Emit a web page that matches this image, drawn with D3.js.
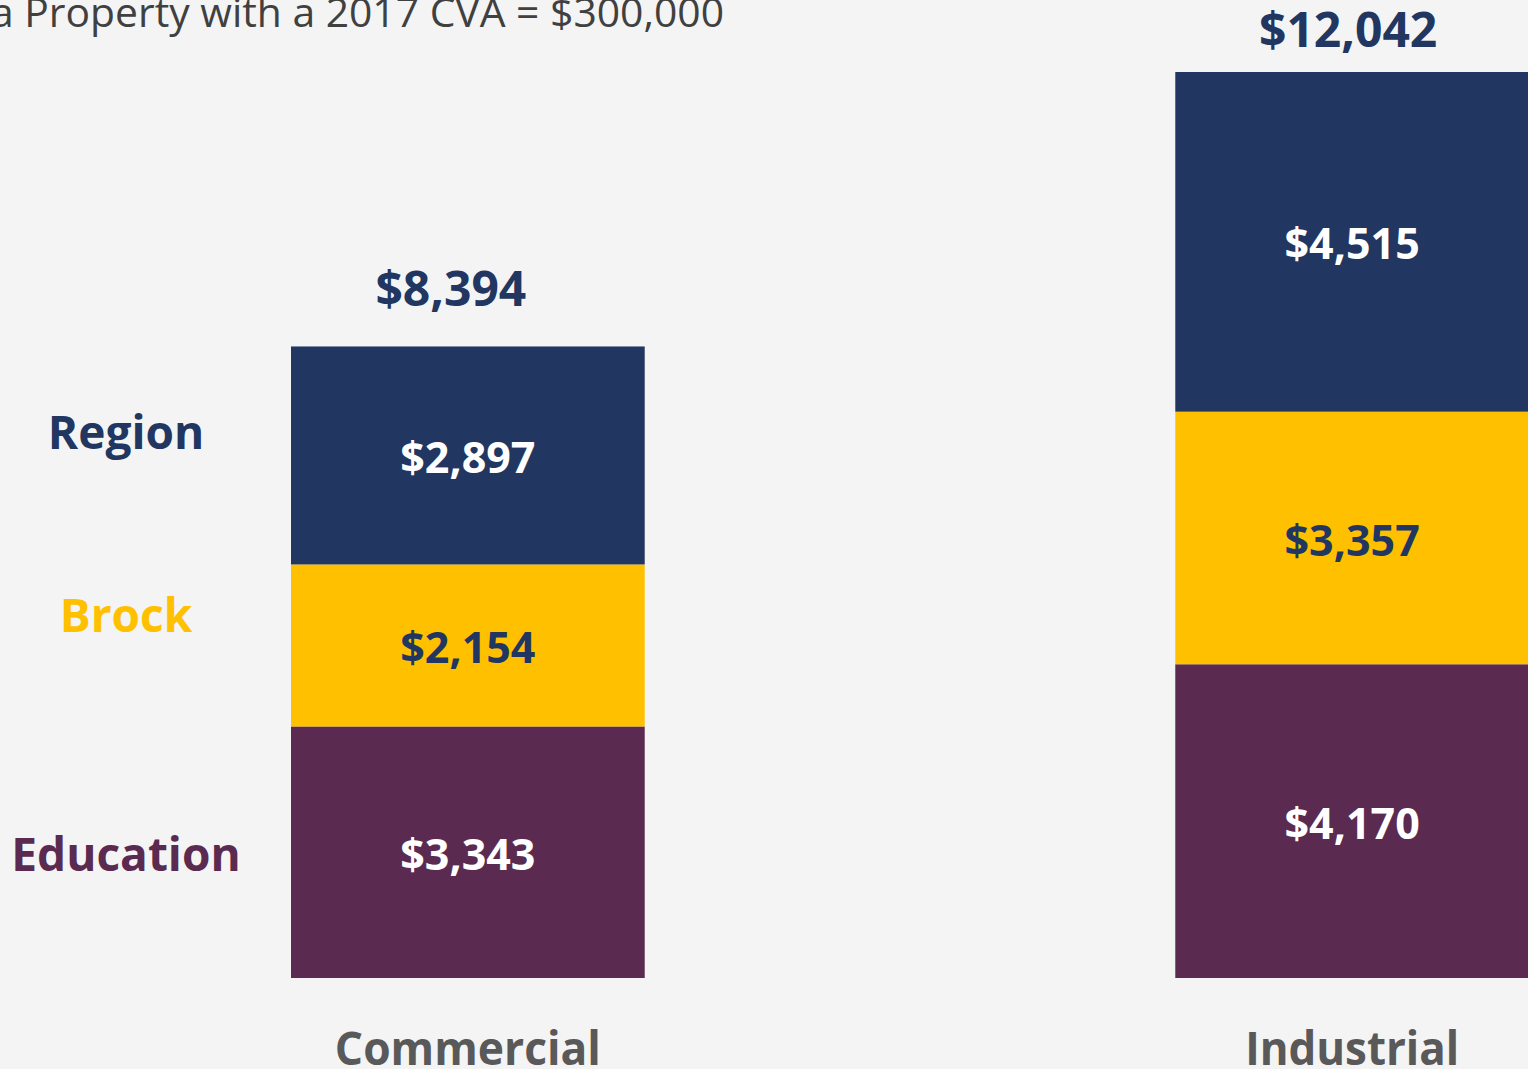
<!DOCTYPE html>
<html>
<head>
<meta charset="utf-8">
<script src="https://cdn.jsdelivr.net/npm/d3@7"></script>
<style>
  html, body { margin: 0; padding: 0; background: #f4f4f4; overflow: hidden; }
  text { font-family: 'Open Sans', 'Noto Sans', sans-serif; }
</style>
</head>
<body>
<div id="vis"></div>
<script>
var categories = ['Commercial', 'Industrial'];
var series = ['Education', 'Brock', 'Region'];
var education = [3343, 4170];
var brock = [2154, 3357];
var region = [2897, 4515];
var totals = [8394, 12042];
var titleText = 'a Property with a 2017 CVA = $300,000';

var width = 1528, height = 1069;

var data = categories.map((c, i) => ({
    category: c, Education: education[i], Brock: brock[i], Region: region[i], total: totals[i]
}));

var fills = d3.scaleOrdinal().domain(series).range(['#5a2a50', '#ffc000', '#213761']);
var inner = d3.scaleOrdinal().domain(series).range(['#ffffff', '#213761', '#ffffff']);
var fmt = d => '$' + d3.format(',')(d);

var x = d3.scaleBand()
    .domain(categories)
    .range([291, 1529])
    .paddingInner(0.6)
    .paddingOuter(0);

var y = d3.scaleLinear()
    .domain([0, d3.max(totals)])
    .range([978, 72]);

var svg = d3.select('#vis').append('svg')
    .attr('width', width)
    .attr('height', height);

svg.append('rect').attr('width', width).attr('height', height).attr('fill', '#f4f4f4');

// title runs off the left edge in the source
svg.append('text')
    .attr('x', -9).attr('y', 27)
    .attr('font-size', 40)
    .attr('textLength', 733)
    .attr('lengthAdjust', 'spacingAndGlyphs')
    .attr('fill', '#404040')
    .text(titleText);

var stacked = d3.stack().keys(series)(data);

var layers = svg.selectAll('g.layer')
    .data(stacked)
    .enter()
    .append('g')
        .attr('class', 'layer')
        .attr('fill', d => fills(d.key));

layers.selectAll('rect')
    .data(d => d)
    .enter()
    .append('rect')
        .attr('x', d => x(d.data.category))
        .attr('y', d => y(d[1]))
        .attr('height', d => y(d[0]) - y(d[1]))
        .attr('width', x.bandwidth());

layers.each(function(s) {
    d3.select(this).selectAll('text')
        .data(s)
        .enter()
        .append('text')
            .attr('x', d => x(d.data.category) + x.bandwidth() / 2)
            .attr('y', d => (y(d[0]) + y(d[1])) / 2)
            .attr('dy', '0.41em')
            .attr('text-anchor', 'middle')
            .attr('font-size', 43)
            .attr('font-weight', 700)
            .attr('fill', inner(s.key))
            .text(d => fmt(d[1] - d[0]));
});

// totals above bars
var totalGap = [40, 25];
svg.selectAll('text.total')
    .data(data)
    .enter()
    .append('text')
        .attr('class', 'total')
        .attr('x', (d, i) => x(d.category) + x.bandwidth() / 2 - [17, 4][i])
        .attr('y', (d, i) => y(d.total) - totalGap[i])
        .attr('text-anchor', 'middle')
        .attr('font-size', 48)
        .attr('font-weight', 700)
        .attr('fill', '#213761')
        .text(d => fmt(d.total));

// series names beside first bar
var legendShift = [2, -30, -23];
svg.selectAll('text.series')
    .data(stacked)
    .enter()
    .append('text')
        .attr('class', 'series')
        .attr('x', 126)
        .attr('y', (d, i) => (y(d[0][0]) + y(d[0][1])) / 2 + legendShift[i])
        .attr('dy', '0.36em')
        .attr('text-anchor', 'middle')
        .attr('font-size', 46)
        .attr('font-weight', 700)
        .attr('fill', d => fills(d.key))
        .text(d => d.key);

var axis = svg.append('g')
    .attr('transform', 'translate(0,1065)')
    .call(d3.axisBottom(x).tickSize(0).tickPadding(0));
axis.select('.domain').remove();
axis.selectAll('text')
    .attr('dy', 0)
    .attr('font-family', "'Open Sans', 'Noto Sans', sans-serif")
    .attr('font-size', 47)
    .attr('font-weight', 700)
    .attr('fill', '#595959')
    .attr('textLength', d => d === 'Commercial' ? 266 : 214)
    .attr('lengthAdjust', 'spacingAndGlyphs');
</script>
</body>
</html>
